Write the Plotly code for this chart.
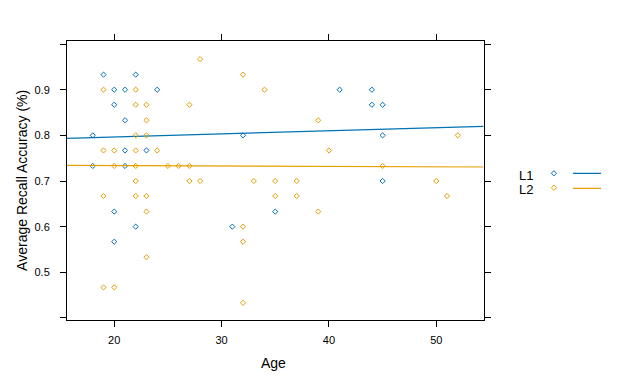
import plotly.graph_objects as go

# ---- data ----
l1_age = [19, 22, 20, 21, 24, 20, 21, 18, 21, 23, 18, 21, 20, 22, 20,
          32, 41, 35, 31, 44, 44, 45, 45, 45]
l1_acc = [0.933, 0.933, 0.9, 0.9, 0.9, 0.867, 0.833, 0.8, 0.767, 0.767, 0.733, 0.733, 0.633, 0.6, 0.567,
          0.8, 0.9, 0.633, 0.6, 0.9, 0.867, 0.867, 0.8, 0.7]

l2_age = [28, 19, 22, 22, 23, 27, 23, 22, 23, 19, 20, 22, 24, 20, 22, 25, 26, 27,
          22, 27, 28, 19, 22, 23, 23, 23, 19, 20,
          32, 34, 39, 40, 33, 35, 37, 35, 37, 39, 32, 32, 32, 52, 45, 50, 51]
l2_acc = [0.967, 0.9, 0.9, 0.867, 0.867, 0.867, 0.833, 0.8, 0.8, 0.767, 0.767, 0.767, 0.767, 0.733, 0.733, 0.733, 0.733, 0.733,
          0.7, 0.7, 0.7, 0.667, 0.667, 0.667, 0.633, 0.533, 0.467, 0.467,
          0.933, 0.9, 0.833, 0.767, 0.7, 0.7, 0.7, 0.667, 0.667, 0.633, 0.6, 0.567, 0.433, 0.8, 0.733, 0.7, 0.667]

groups = ["L1", "L2"]
# linear fit lines (intercept, slope)
fit_intercept = [0.7829, 0.7359]
fit_slope = [0.000678, -0.0000954]

x_range = [15.6, 54.4]
y_range = [0.3955, 1.0067]
x_ticks = [20, 30, 40, 50]
y_ticks = [0.4, 0.5, 0.6, 0.7, 0.8, 0.9, 1.0]
y_ticktext = ["", "0.5", "0.6", "0.7", "0.8", "0.9", ""]

colors = ["#0072B2", "#E69F00"]
FONT = "Liberation Sans, Arial, sans-serif"

# page offset (body margin) so screen targets line up
OFF = 8
W, H = 629, 389
# screen-pixel targets of the panel
P_LEFT, P_RIGHT, P_TOP, P_BOTTOM = 67.3, 483.6, 41.0, 320.0
ml = P_LEFT - OFF
mt = P_TOP - OFF
ph = P_BOTTOM - P_TOP
mb = H - mt - ph
pw = W - ml
dom_end = (P_RIGHT - P_LEFT) / pw
dom2_start = 0.76


def px_to_paper_x(px):
    return (px - P_LEFT) / pw


def px_to_paper_y(py):
    return (P_BOTTOM - py) / ph


fig = go.Figure()
series = [(l1_age, l1_acc), (l2_age, l2_acc)]
for i, (ages, accs) in enumerate(series):
    fig.add_trace(go.Scatter(
        x=ages, y=accs, mode="markers",
        marker=dict(symbol="diamond-open", size=4, color=colors[i], line=dict(width=1, color=colors[i])),
        showlegend=False, hoverinfo="skip"))
    lx = x_range
    ly = [fit_intercept[i] + fit_slope[i] * v for v in lx]
    fig.add_trace(go.Scatter(x=lx, y=ly, mode="lines", line=dict(color=colors[i], width=1.2),
                             showlegend=False, hoverinfo="skip"))

# custom legend keys (text, point, line) on a helper axis in screen pixel units
leg_y_text = [175, 189.3]
leg_y_mark = [173.3, 187.7]
leg_y_line = [173.3, 188.3]
for i, g in enumerate(groups):
    fig.add_trace(go.Scatter(
        x=[554], y=[leg_y_mark[i]], xaxis="x2", yaxis="y2", mode="markers",
        marker=dict(symbol="diamond-open", size=4, color=colors[i], line=dict(width=1, color=colors[i])),
        showlegend=False, hoverinfo="skip"))
    fig.add_trace(go.Scatter(
        x=[573, 601], y=[leg_y_line[i]] * 2, xaxis="x2", yaxis="y2", mode="lines",
        line=dict(color=colors[i], width=1.2), showlegend=False, hoverinfo="skip"))
    fig.add_annotation(x=526, y=leg_y_text[i], xref="x2", yref="y2", text=g, showarrow=False,
                       font=dict(family=FONT, size=13, color="black"), xanchor="center", yanchor="middle")

fig.update_layout(
    width=W, height=H,
    margin=dict(l=ml, r=0, t=mt, b=mb, pad=0),
    paper_bgcolor="white", plot_bgcolor="white",
    font=dict(family=FONT, size=11, color="black"),
    xaxis=dict(domain=[0, dom_end], range=x_range, tickvals=x_ticks, ticks="outside", ticklen=6,
               tickwidth=1, tickcolor="black", showline=True, linecolor="black", linewidth=1,
               mirror="ticks", showgrid=False, zeroline=False, tickfont=dict(size=11, color="black"),
               ticklabelstandoff=4),
    yaxis=dict(range=y_range, tickvals=y_ticks, ticktext=y_ticktext, ticks="outside", ticklen=6,
               tickwidth=1, tickcolor="black", showline=True, linecolor="black", linewidth=1,
               mirror="ticks", showgrid=False, zeroline=False, tickfont=dict(size=11, color="black"),
               ticklabelstandoff=8),
    xaxis2=dict(domain=[dom2_start, 1], range=[P_LEFT + dom2_start * pw, P_LEFT + pw],
                visible=False, anchor="y2"),
    yaxis2=dict(domain=[0, 1], range=[P_BOTTOM, P_TOP], visible=False, anchor="x2"),
)

fig.add_annotation(x=px_to_paper_x(274), y=px_to_paper_y(363), xref="paper", yref="paper",
                   text="Age", showarrow=False, font=dict(family=FONT, size=14, color="black"),
                   xanchor="center", yanchor="middle")
fig.add_annotation(x=px_to_paper_x(21.7), y=0.5, xref="paper", yref="paper",
                   text="Average Recall Accuracy (%)", showarrow=False, textangle=-90,
                   font=dict(family=FONT, size=14, color="black"), xanchor="center", yanchor="middle")

fig.write_html("out.html")
